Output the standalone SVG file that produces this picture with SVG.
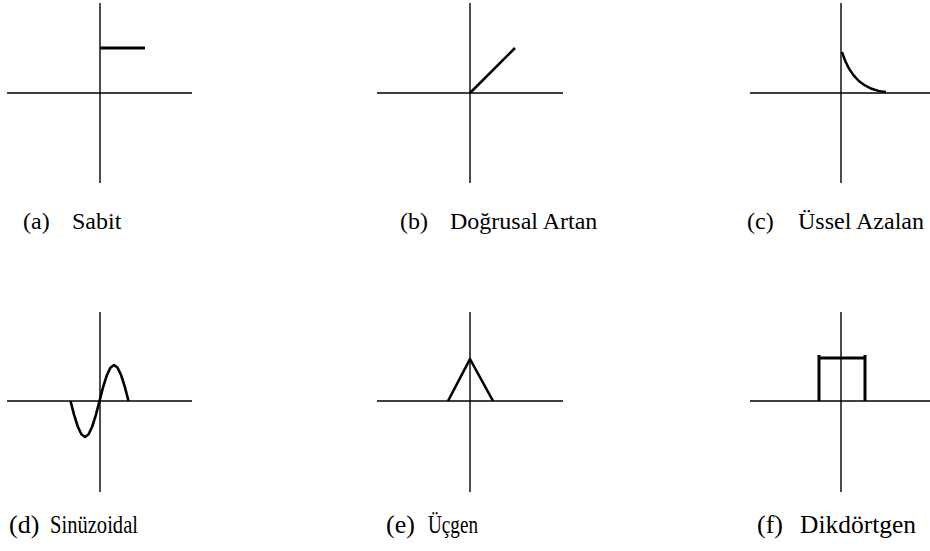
<svg xmlns="http://www.w3.org/2000/svg" width="930" height="551" viewBox="0 0 930 551">
<style>
.ax{stroke:#000;stroke-width:1.4;fill:none}
.sig{stroke:#000;stroke-width:2.6;fill:none;stroke-linejoin:round}
.lb{font-family:'Liberation Serif','Times New Roman',serif;font-size:24px;fill:#000}
.lb2{font-family:'Liberation Serif','Times New Roman',serif;font-size:26px;fill:#000}
</style>
<rect width="930" height="551" fill="#fff"/>
<g id="a">
<line class="ax" x1="100" y1="3" x2="100" y2="183"/>
<line class="ax" x1="7" y1="93" x2="192" y2="93"/>
<line class="sig" x1="100" y1="48" x2="145" y2="48" style="stroke-width:3"/>
<text class="lb" x="23" y="229">(a)</text>
<text class="lb" x="72" y="229">Sabit</text>
</g>
<g id="b">
<line class="ax" x1="470" y1="3" x2="470" y2="183"/>
<line class="ax" x1="377" y1="93" x2="563" y2="93"/>
<line class="sig" x1="470" y1="93" x2="515" y2="48"/>
<text class="lb" x="400" y="229">(b)</text>
<text class="lb" x="450" y="229">Doğrusal Artan</text>
</g>
<g id="c">
<line class="ax" x1="841" y1="3" x2="841" y2="183"/>
<line class="ax" x1="750" y1="93" x2="932" y2="93"/>
<path class="sig" d="M842,52 C848,72 860,90 886,92"/>
<text class="lb" x="747" y="229">(c)</text>
<text class="lb" x="798" y="229">Üssel Azalan</text>
</g>
<g id="d">
<line class="ax" x1="100" y1="312" x2="100" y2="492"/>
<line class="ax" x1="7" y1="401" x2="192" y2="401"/>
<polyline class="sig" points="70.5,401 74.1,414.8 77.75,426.5 81.4,434.3 85,437 88.6,434.3 92.25,426.5 95.9,414.8 99.5,401 103.1,387.2 106.75,375.5 110.4,367.7 114,365 117.6,367.7 121.25,375.5 124.9,387.2 128.5,401"/>
<text class="lb2" x="9" y="533">(d)</text>
<text class="lb2" x="50" y="533" textLength="88" lengthAdjust="spacingAndGlyphs">Sinüzoidal</text>
</g>
<g id="e">
<line class="ax" x1="470" y1="312" x2="470" y2="492"/>
<line class="ax" x1="377" y1="401" x2="563" y2="401"/>
<polyline class="sig" points="448,401 470,359 493,401"/>
<text class="lb2" x="386" y="533">(e)</text>
<text class="lb2" x="428" y="533" textLength="50" lengthAdjust="spacingAndGlyphs">Üçgen</text>
</g>
<g id="f">
<line class="ax" x1="841" y1="312" x2="841" y2="492"/>
<line class="ax" x1="750" y1="401" x2="932" y2="401"/>
<path class="sig" d="M819,401 V355 M819,358 H865 M865,355 V401" style="stroke-width:3"/>
<text class="lb2" x="757" y="533">(f)</text>
<text class="lb2" x="800" y="533" textLength="116" lengthAdjust="spacingAndGlyphs">Dikdörtgen</text>
</g>
</svg>
